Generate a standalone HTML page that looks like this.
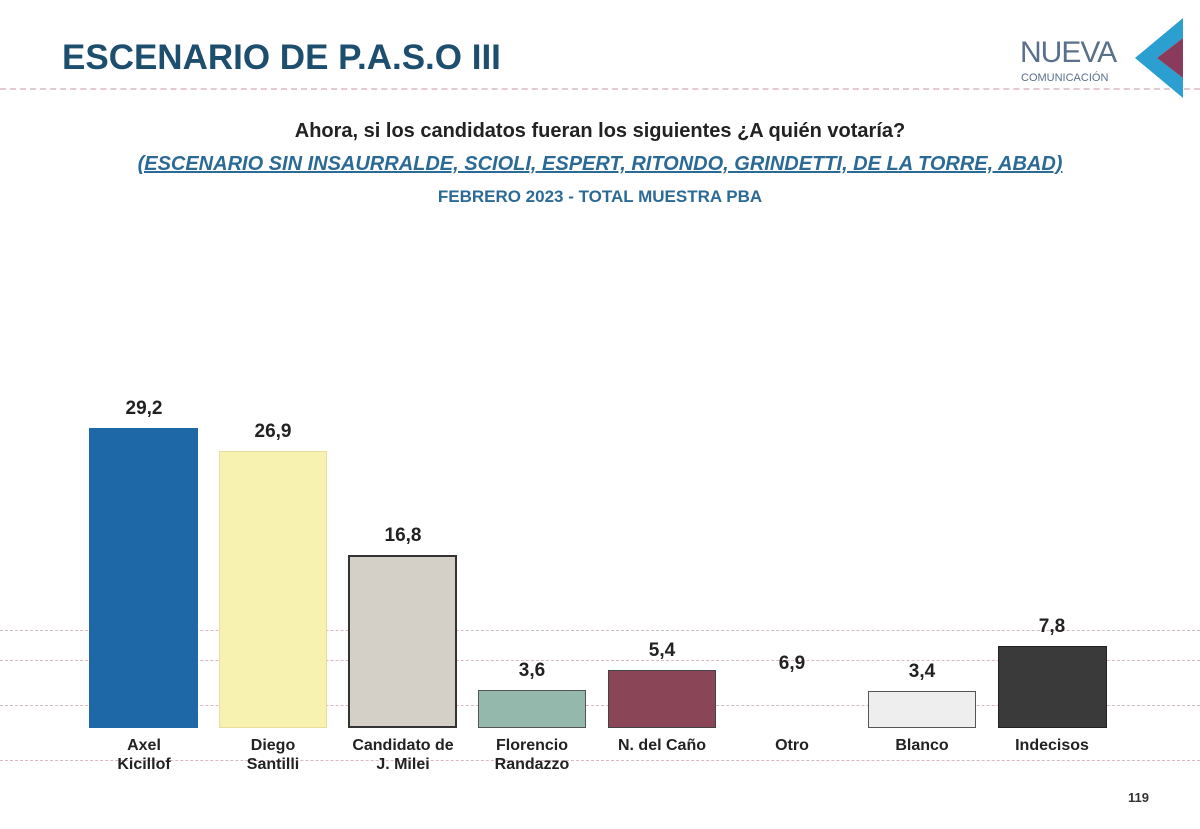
<!DOCTYPE html>
<html><head><meta charset="utf-8"><style>
body{margin:0;width:1200px;height:829px;background:#fff;position:relative;overflow:hidden;font-family:"Liberation Sans",sans-serif}
.a{position:absolute}
.bar{position:absolute;box-sizing:border-box}
.v{position:absolute;width:110px;text-align:center;font-weight:bold;font-size:19px;color:#222}
.l{position:absolute;width:140px;text-align:center;font-weight:bold;font-size:16px;line-height:19px;color:#222}
.dl{position:absolute;left:0;width:1200px;height:0;border-top:1px dashed #d8b8c4}
</style></head><body>
<div class="a" style="left:62px;top:38px;font-size:35px;font-weight:bold;color:#1d4e6e">ESCENARIO DE P.A.S.O III</div>
<div class="dl" style="top:88px;border-top:2px dashed #e2c9d2"></div>
<div class="a" style="left:1020px;top:36px;font-size:30px;color:#5a6f8a;letter-spacing:-1px">NUEVA</div>
<div class="a" style="left:1021px;top:72px;font-size:11px;color:#5a6f8a">COMUNICACIÓN</div>
<svg class="a" style="left:1135px;top:18px" width="50" height="80"><polygon points="48,0 0,40 48,80 48,60 22,40 48,20" fill="#2a9fd0"/><polygon points="48,20 22,40 48,60" fill="#8a3a5a"/></svg>
<div class="a" style="left:0;width:1200px;top:120px;text-align:center;font-size:20px;font-weight:bold;color:#222">Ahora, si los candidatos fueran los siguientes ¿A quién votaría?</div>
<div class="a" style="left:0;width:1200px;top:153px;text-align:center;font-size:20px;font-weight:bold;font-style:italic;text-decoration:underline;color:#2c6a96">(ESCENARIO SIN INSAURRALDE, SCIOLI, ESPERT, RITONDO, GRINDETTI, DE LA TORRE, ABAD)</div>
<div class="a" style="left:0;width:1200px;top:187px;text-align:center;font-size:17px;font-weight:bold;color:#2c6a96">FEBRERO 2023 - TOTAL MUESTRA PBA</div>
<div class="dl" style="top:630px"></div>
<div class="dl" style="top:660px"></div>
<div class="dl" style="top:705px"></div>
<div class="dl" style="top:760px"></div>
<div class="bar" style="left:89px;top:428px;width:109px;height:300px;background:#1f68a8"></div>
<div class="bar" style="left:219px;top:451px;width:108px;height:277px;background:#f8f2b0;border:1px solid #e8dca0"></div>
<div class="bar" style="left:348px;top:555px;width:109px;height:173px;background:#d4d0c8;border:2px solid #333"></div>
<div class="bar" style="left:478px;top:690px;width:108px;height:38px;background:#94b8ac;border:1px solid #555"></div>
<div class="bar" style="left:608px;top:670px;width:108px;height:58px;background:#8a4656;border:1px solid #444"></div>
<div class="bar" style="left:868px;top:691px;width:108px;height:37px;background:#eeeeee;border:1px solid #555"></div>
<div class="bar" style="left:998px;top:646px;width:109px;height:82px;background:#3a3a3a;border:1px solid #222"></div>
<div class="v" style="left:89px;top:398px">29,2</div>
<div class="v" style="left:218px;top:421px">26,9</div>
<div class="v" style="left:348px;top:525px">16,8</div>
<div class="v" style="left:477px;top:660px">3,6</div>
<div class="v" style="left:607px;top:640px">5,4</div>
<div class="v" style="left:737px;top:653px">6,9</div>
<div class="v" style="left:867px;top:661px">3,4</div>
<div class="v" style="left:997px;top:616px">7,8</div>
<div class="l" style="left:74px;top:736px">Axel<br>Kicillof</div>
<div class="l" style="left:203px;top:736px">Diego<br>Santilli</div>
<div class="l" style="left:333px;top:736px">Candidato de<br>J. Milei</div>
<div class="l" style="left:462px;top:736px">Florencio<br>Randazzo</div>
<div class="l" style="left:592px;top:736px">N. del Caño</div>
<div class="l" style="left:722px;top:736px">Otro</div>
<div class="l" style="left:852px;top:736px">Blanco</div>
<div class="l" style="left:982px;top:736px">Indecisos</div>
<div class="a" style="left:1128px;top:790px;font-size:13px;font-weight:bold;color:#333">119</div>
</body></html>
